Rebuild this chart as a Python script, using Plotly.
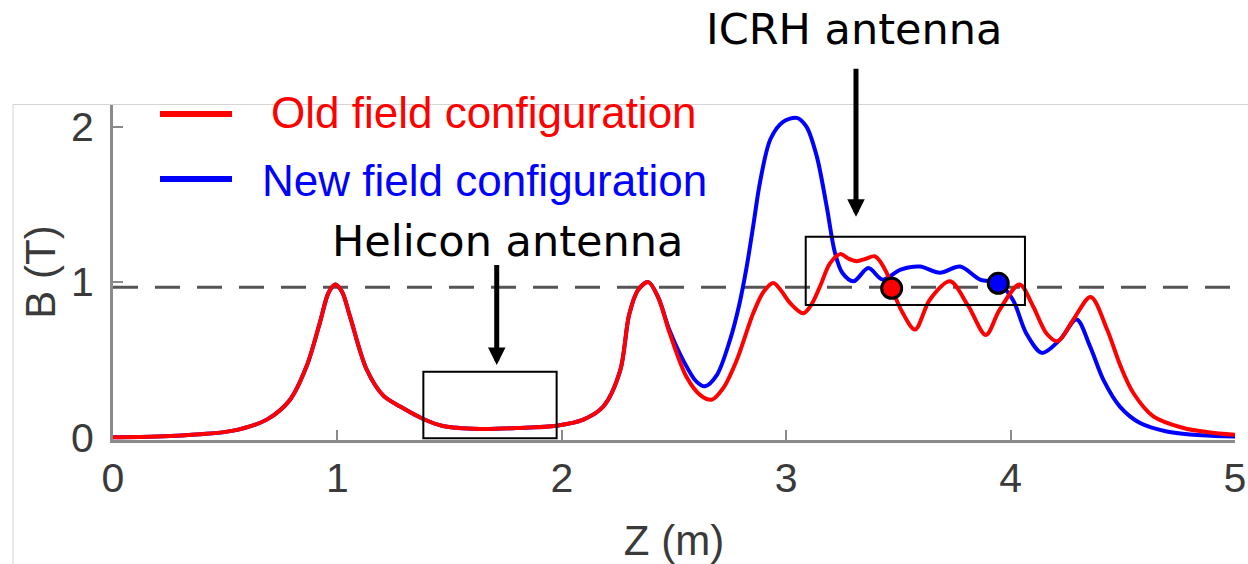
import plotly.graph_objects as go

# Axial field profiles B(z) for the two coil configurations
z_old = [0.00, 0.20, 0.39, 0.536, 0.685, 0.789, 0.863, 0.922, 0.96, 0.99, 1.02, 1.056,
         1.13, 1.205, 1.28, 1.383, 1.47, 1.635, 1.80, 1.977, 2.096, 2.185, 2.26, 2.30,
         2.34, 2.386, 2.43, 2.48, 2.556, 2.62, 2.668, 2.72, 2.78, 2.853, 2.90, 2.943,
         2.98, 3.017, 3.076, 3.11, 3.15, 3.195, 3.24, 3.28, 3.314, 3.355, 3.396, 3.448,
         3.47, 3.52, 3.574, 3.64, 3.73, 3.81, 3.89, 3.95, 4.04, 4.10, 4.16, 4.21, 4.28,
         4.357, 4.43, 4.49, 4.547, 4.636, 4.77, 4.88, 5.00]
b_old = [0.003, 0.008, 0.022, 0.045, 0.116, 0.244, 0.46, 0.74, 0.93, 0.985, 0.94, 0.78,
         0.44, 0.27, 0.20, 0.12, 0.075, 0.056, 0.062, 0.077, 0.116, 0.20, 0.43, 0.79,
         0.95, 1.0, 0.9, 0.675, 0.39, 0.27, 0.244, 0.32, 0.50, 0.80, 0.94, 0.995,
         0.94, 0.866, 0.80, 0.85, 0.97, 1.12, 1.18, 1.15, 1.134, 1.15, 1.166, 1.06,
         0.963, 0.80, 0.695, 0.887, 1.005, 0.85, 0.66, 0.82, 0.984, 0.845, 0.67, 0.62, 0.76,
         0.905, 0.695, 0.46, 0.287, 0.137, 0.062, 0.035, 0.018]

z_new = [0.00, 0.20, 0.39, 0.536, 0.685, 0.789, 0.863, 0.922, 0.96, 0.99, 1.02, 1.056,
         1.13, 1.205, 1.28, 1.383, 1.47, 1.635, 1.80, 1.977, 2.096, 2.185, 2.26, 2.30,
         2.34, 2.386, 2.43, 2.48, 2.54, 2.60, 2.638, 2.69, 2.75, 2.79, 2.824, 2.855,
         2.883, 2.93, 2.986, 3.047, 3.09, 3.136, 3.18, 3.217, 3.25, 3.30, 3.366, 3.43,
         3.51, 3.596, 3.685, 3.775, 3.864, 3.945, 4.01, 4.07, 4.14, 4.22, 4.294, 4.354,
         4.413, 4.487, 4.577, 4.696, 4.85, 5.00]
b_new = [0.003, 0.008, 0.022, 0.045, 0.116, 0.244, 0.46, 0.74, 0.93, 0.985, 0.94, 0.78,
         0.44, 0.27, 0.20, 0.12, 0.075, 0.056, 0.062, 0.077, 0.116, 0.20, 0.43, 0.79,
         0.95, 1.0, 0.9, 0.69, 0.50, 0.36, 0.33, 0.40, 0.63, 0.85, 1.10, 1.38,
         1.64, 1.92, 2.03, 2.056, 2.0, 1.81, 1.49, 1.19, 1.06, 1.005, 1.09, 1.016,
         1.08, 1.10, 1.06, 1.10, 1.016, 0.995, 0.887, 0.67, 0.545, 0.63, 0.76, 0.587,
         0.373, 0.20, 0.094, 0.04, 0.015, 0.008]

# Resonance points marked on each profile
dot_z = [3.47, 3.945]
dot_b = [0.96, 0.992]
dot_colors = ["#ff0000", "#0000ff"]

x_ticks = [0, 1, 2, 3, 4, 5]
y_ticks = [0, 1, 2]
b_ref = 0.967  # reference field level (dashed)

# antenna regions: (z0, z1, b0, b1)
helicon_box = (1.383, 1.977, -0.004, 0.424)
icrh_box = (3.087, 4.064, 0.853, 1.292)

W, H = 1248, 564
L, R, T, B = 113, 13, 104, 124
PW, PH = W - L - R, H - T - B


def px(p):
    return (p - L) / PW


def py(p):
    return (H - B - p) / PH


RED = "#ff0000"
BLUE = "#0000ff"
AXIS = "#8a8a8a"
LABEL = "#3a3a3a"

fig = go.Figure()
fig.add_trace(go.Scatter(x=z_new, y=b_new, mode="lines",
                         line=dict(color=BLUE, width=4, shape="spline", smoothing=0.9),
                         name="New field configuration", showlegend=False))
fig.add_trace(go.Scatter(x=z_old, y=b_old, mode="lines",
                         line=dict(color=RED, width=4, shape="spline", smoothing=0.9),
                         name="Old field configuration", showlegend=False))
fig.add_trace(go.Scatter(x=dot_z, y=dot_b, mode="markers",
                         marker=dict(size=20, color=dot_colors, line=dict(color="black", width=3)),
                         showlegend=False, cliponaxis=False))

shapes = []
# reference level
shapes.append(dict(type="line", xref="x", yref="y", x0=0, x1=5, y0=b_ref, y1=b_ref,
                   line=dict(color="#555555", width=3, dash="25px,17px"), layer="below"))
# antenna boxes
for (x0, x1, y0, y1) in (helicon_box, icrh_box):
    shapes.append(dict(type="rect", xref="x", yref="y", x0=x0, x1=x1, y0=y0, y1=y1,
                       line=dict(color="black", width=2), fillcolor="rgba(0,0,0,0)", layer="above"))
# legend swatches
shapes.append(dict(type="line", xref="paper", yref="paper", x0=px(160), x1=px(232),
                   y0=py(114), y1=py(114), line=dict(color=RED, width=6)))
shapes.append(dict(type="line", xref="paper", yref="paper", x0=px(160), x1=px(232),
                   y0=py(179), y1=py(179), line=dict(color=BLUE, width=6)))
# outer frame
shapes.append(dict(type="line", xref="paper", yref="paper", x0=px(13), x1=px(W),
                   y0=py(104.5), y1=py(104.5), line=dict(color="#d4d4d4", width=1)))
shapes.append(dict(type="line", xref="paper", yref="paper", x0=px(13), x1=px(13),
                   y0=py(104.5), y1=py(H), line=dict(color="#d4d4d4", width=1)))

annotations = [
    dict(text="Old field configuration", xref="paper", yref="paper", x=px(269), y=py(112),
         xanchor="left", yanchor="middle", showarrow=False,
         font=dict(family="Liberation Sans, Arial", size=44, color=RED)),
    dict(text="New field configuration", xref="paper", yref="paper", x=px(260), y=py(180),
         xanchor="left", yanchor="middle", showarrow=False,
         font=dict(family="Liberation Sans, Arial", size=44, color=BLUE)),
    dict(text="Helicon antenna", xref="paper", yref="paper", x=px(507), y=py(241),
         xanchor="center", yanchor="middle", showarrow=False,
         font=dict(family="DejaVu Sans", size=43, color="black")),
    dict(text="ICRH antenna", xref="paper", yref="paper", x=px(853.5), y=py(29),
         xanchor="center", yanchor="middle", showarrow=False,
         font=dict(family="DejaVu Sans", size=43, color="black")),
    # arrows pointing at the antenna regions
    dict(text=" ", x=1.71, y=0.467, xref="x", yref="y", ax=0, ay=-102,
         showarrow=True, arrowhead=2, arrowwidth=5, arrowsize=0.7, arrowcolor="black",
         font=dict(size=1)),
    dict(text=" ", x=3.311, y=1.42, xref="x", yref="y", ax=0, ay=-150,
         showarrow=True, arrowhead=2, arrowwidth=5, arrowsize=0.7, arrowcolor="black",
         font=dict(size=1)),
]

fig.update_layout(
    width=W, height=H, autosize=False,
    margin=dict(l=L, r=R, t=T, b=B, pad=0, autoexpand=False),
    paper_bgcolor="white", plot_bgcolor="white",
    shapes=shapes, annotations=annotations,
    xaxis=dict(range=[0, 5], tickvals=x_ticks, ticktext=[str(v) for v in x_ticks],
               automargin=False,
               showgrid=False, zeroline=False, showline=True, linecolor=AXIS, linewidth=3,
               ticks="inside", ticklen=10, tickwidth=2, tickcolor=AXIS,
               tickfont=dict(family="Liberation Sans, Arial", size=41, color=LABEL),
               title=dict(text="Z (m)", standoff=26,
                          font=dict(family="Liberation Sans, Arial", size=42, color=LABEL)),
               layer="below traces"),
    yaxis=dict(range=[-0.015, 2.145], tickvals=y_ticks, ticktext=[str(v) for v in y_ticks],
               automargin=False,
               showgrid=False, zeroline=False, showline=True, linecolor=AXIS, linewidth=3,
               ticks="inside", ticklen=10, tickwidth=2, tickcolor=AXIS,
               tickfont=dict(family="Liberation Sans, Arial", size=41, color=LABEL),
               ticklabelstandoff=8,
               title=dict(text="B (T)", standoff=3,
                          font=dict(family="Liberation Sans, Arial", size=42, color=LABEL)),
               layer="below traces"),
)

fig.write_html("out.html")
